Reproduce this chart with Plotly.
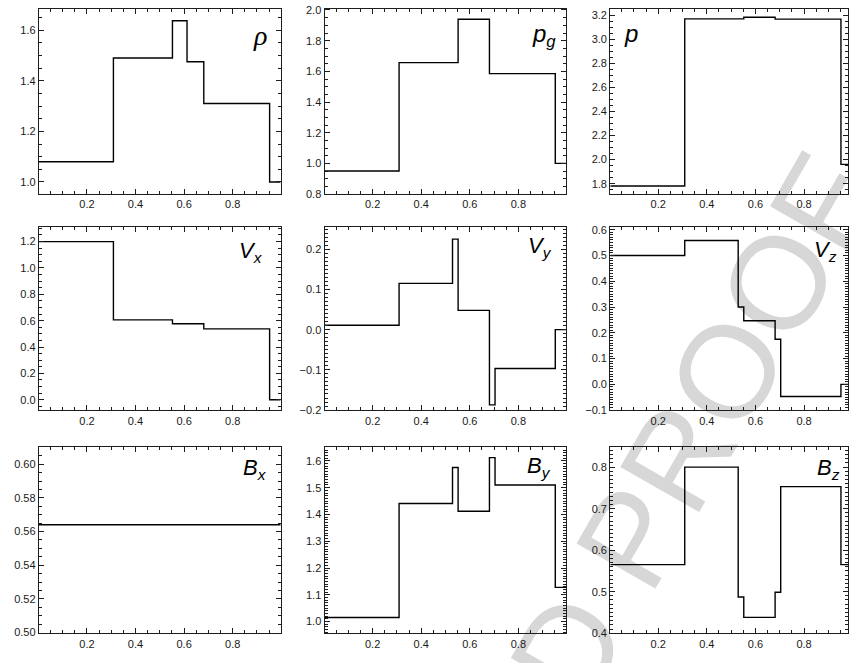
import math
import plotly.graph_objects as go

W, H = 849, 663

# ---------------- data ----------------
X_MIN, X_MAX = 0.0025, 0.9975

rho_edges = [0.309, 0.552, 0.612, 0.681, 0.952]
rho_vals = [1.08, 1.49, 1.637, 1.475, 1.31, 1.0]

pg_edges = [0.309, 0.552, 0.681, 0.952]
pg_vals = [0.95, 1.657, 1.94, 1.585, 1.0]

p_edges = [0.309, 0.552, 0.681, 0.952]
p_vals = [1.78, 3.172, 3.186, 3.17, 1.96]

vx_edges = [0.309, 0.552, 0.681, 0.952]
vx_vals = [1.2, 0.606, 0.577, 0.538, 0.0]

vy_edges = [0.309, 0.529, 0.552, 0.681, 0.704, 0.952]
vy_vals = [0.011, 0.115, 0.225, 0.048, -0.187, -0.0965, 0.0]

vz_edges = [0.309, 0.529, 0.552, 0.681, 0.704, 0.952]
vz_vals = [0.5, 0.558, 0.30, 0.247, 0.175, -0.047, 0.0]

bx_edges = []
bx_vals = [0.564]

by_edges = [0.309, 0.529, 0.552, 0.681, 0.704, 0.952]
by_vals = [1.015, 1.441, 1.575, 1.412, 1.612, 1.51, 1.1275]

bz_edges = [0.309, 0.529, 0.552, 0.681, 0.704, 0.952]
bz_vals = [0.565, 0.80, 0.487, 0.438, 0.4985, 0.753, 0.565]

x_tick_step = 0.2
watermark_text = "UNCORRECTED PROOF"

# ---------------- layout helpers ----------------
col_px = [(39, 281), (325, 567), (611, 849)]
row_px = [(5, 193), (226.5, 412.5), (450, 639)]
PX_PER_X = 242 / (X_MAX - X_MIN)


def fx(x):
    return x / W


def fy(y):
    return 1 - y / H


panels = [
    # edges, vals, row, col, yrange, dtick, minor, fmt, label, font, (xpx, ypx, xanchor)
    (rho_edges, rho_vals, 0, 0, [0.952, 1.684], 0.2, 0.05, ".1f",
     "<i>ρ</i>", "Liberation Serif", 28, (269, 32, "right")),
    (pg_edges, pg_vals, 0, 1, [0.7995, 2.007], 0.2, 0.05, ".1f",
     "<i>p<sub>g</sub></i>", "Liberation Sans", 24, (559, 32, "right")),
    (p_edges, p_vals, 0, 2, [1.713, 3.255], 0.2, 0.05, ".1f",
     "<i>p</i>", "Liberation Sans", 24, (623, 30, "left")),
    (vx_edges, vx_vals, 1, 0, [-0.08, 1.31], 0.2, 0.05, ".1f",
     "<i>V<sub>x</sub></i>", "Liberation Sans", 22, (265, 252, "right")),
    (vy_edges, vy_vals, 1, 1, [-0.2005, 0.255], 0.1, 0.01, ".1f",
     "<i>V<sub>y</sub></i>", "Liberation Sans", 22, (555, 247, "right")),
    (vz_edges, vz_vals, 1, 2, [-0.1005, 0.61], 0.1, 0.01, ".1f",
     "<i>V<sub>z</sub></i>", "Liberation Sans", 22, (840, 251, "right")),
    (bx_edges, bx_vals, 2, 0, [0.4995, 0.6101], 0.02, 0.005, ".2f",
     "<i>B<sub>x</sub></i>", "Liberation Sans", 22, (269, 472, "right")),
    (by_edges, by_vals, 2, 1, [0.956, 1.651], 0.1, 0.01, ".1f",
     "<i>B<sub>y</sub></i>", "Liberation Sans", 22, (554, 470, "right")),
    (bz_edges, bz_vals, 2, 2, [0.3995, 0.848], 0.1, 0.01, ".1f",
     "<i>B<sub>z</sub></i>", "Liberation Sans", 22, (843, 472, "right")),
]

AX_COLOR = "#1e1e1e"
TICK_FONT = dict(family="Liberation Sans, Arial, sans-serif", size=11, color="#1a1a1a")

fig = go.Figure()
layout = dict(
    width=W, height=H,
    margin=dict(l=0, r=0, t=0, b=0),
    paper_bgcolor="white", plot_bgcolor="white",
    showlegend=False,
)
annotations = []

for i, (edges, vals, r, c, yr, dt, mdt, fmt, lab, lfont, lsize, lpos) in enumerate(panels, start=1):
    xs = [X_MIN] + list(edges) + [X_MAX]
    ys = list(vals) + [vals[-1]]
    sfx = "" if i == 1 else str(i)
    fig.add_trace(go.Scatter(
        x=xs, y=ys, mode="lines", line=dict(color="black", width=1.4, shape="hv"),
        xaxis="x" + sfx, yaxis="y" + sfx, hoverinfo="skip",
    ))
    c0, c1 = col_px[c]
    r0, r1 = row_px[r]
    xmax = X_MIN + (c1 - c0) / PX_PER_X
    common = dict(
        showgrid=False, zeroline=False, showline=True, linecolor=AX_COLOR, linewidth=1.3,
        mirror="ticks", ticks="inside", ticklen=5, tickwidth=1, tickcolor=AX_COLOR,
        tickfont=TICK_FONT, tick0=0,
    )
    layout["xaxis" + sfx] = dict(
        common, domain=[fx(c0), fx(c1)], range=[X_MIN, xmax], anchor="y" + sfx,
        dtick=x_tick_step, tickformat=".1f",
        minor=dict(dtick=0.05, tick0=0, ticks="inside", ticklen=3, tickcolor=AX_COLOR, showgrid=False),
    )
    layout["yaxis" + sfx] = dict(
        common, domain=[fy(r1), fy(r0)], range=yr, anchor="x" + sfx,
        dtick=dt, tickformat=fmt,
        minor=dict(dtick=mdt, tick0=0, ticks="inside", ticklen=3, tickcolor=AX_COLOR, showgrid=False),
    )
    xp, yp, xa = lpos
    annotations.append(dict(
        text=lab, x=fx(xp), y=fy(yp), xref="paper", yref="paper",
        xanchor=xa, yanchor="middle", showarrow=False,
        font=dict(family=lfont, size=lsize, color="black"),
    ))

layout["annotations"] = annotations

# watermark drawn beneath the data lines
ang = math.radians(60.5)
cx, cy = 452, 835
dx, dy = math.cos(ang), -math.sin(ang)
L = 300
layout["shapes"] = [dict(
    type="line", xref="paper", yref="paper", layer="below",
    x0=fx(cx - L * dx), y0=fy(cy - L * dy), x1=fx(cx + L * dx), y1=fy(cy + L * dy),
    line=dict(width=0, color="rgba(0,0,0,0)"),
    label=dict(text=watermark_text, textposition="middle", yanchor="middle", padding=0,
               font=dict(family="Liberation Sans, Arial, sans-serif", size=132, color="#d7d7d7")),
)]

fig.update_layout(**layout)
fig.write_html("out.html")
